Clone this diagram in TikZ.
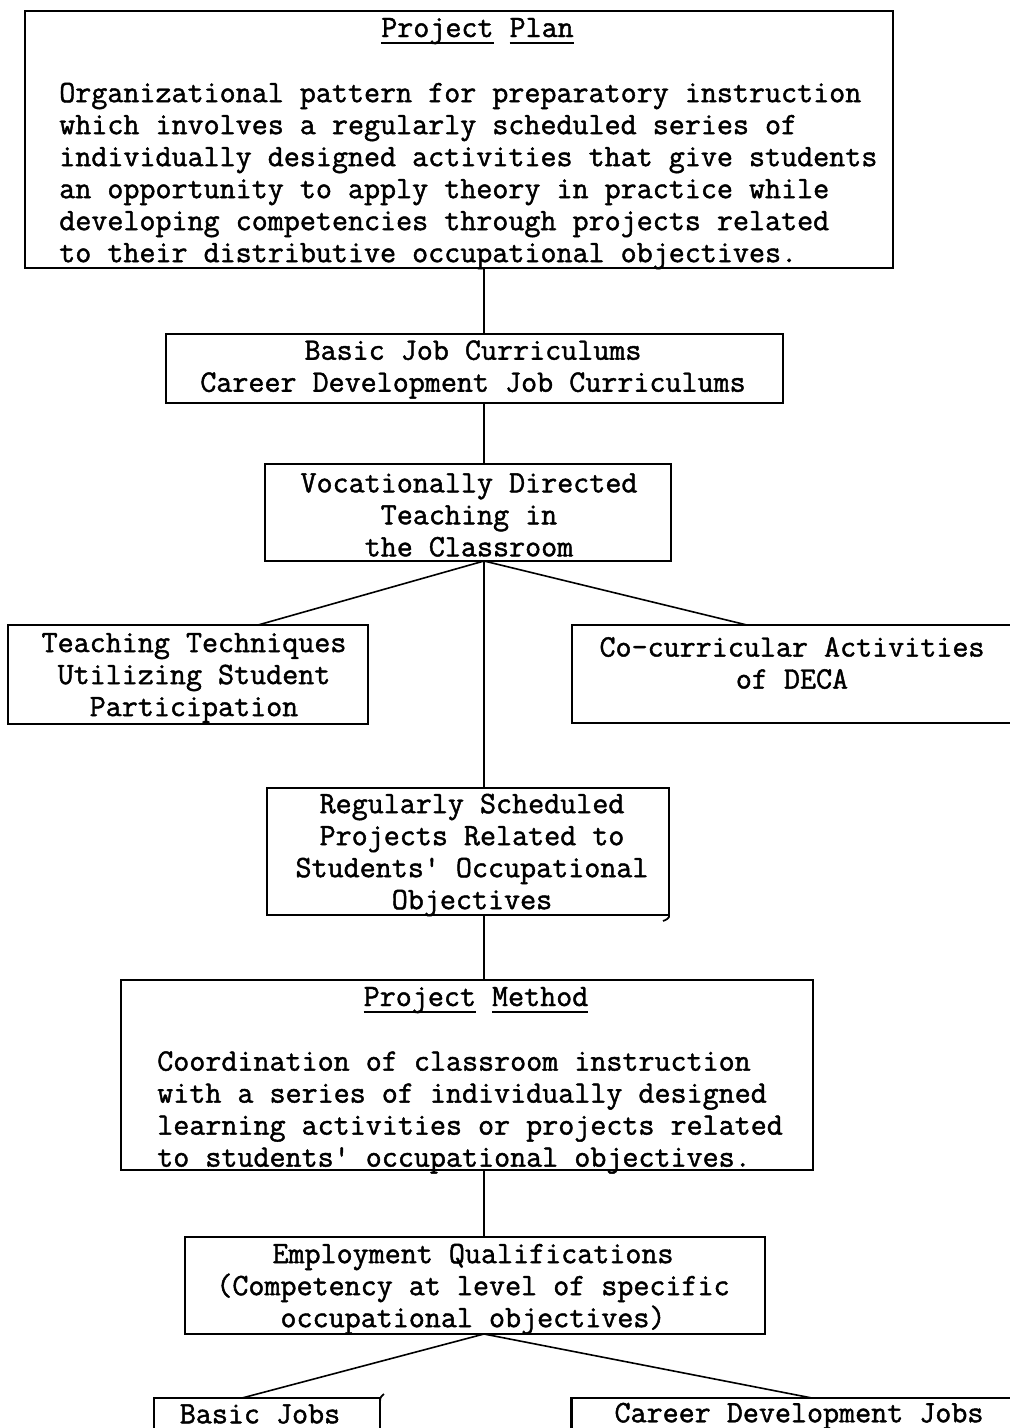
\documentclass[tikz,border=0pt]{standalone}
\usepackage{fontspec}
\newfontfamily\tw[FakeBold=1.4]{Latin Modern Mono}
\newcommand\myul[1]{\setbox0\hbox{#1}\rlap{\rule[-5pt]{\wd0}{1.5pt}}\box0}
\begin{document}
\begin{tikzpicture}[x=0.75pt,y=-0.75pt,
  box/.style={draw, line width=1.6pt, inner sep=0pt, outer sep=0pt},
  txt/.style={font=\tw\fontsize{23.36pt}{24pt}\selectfont, inner sep=0pt, align=center},
  txl/.style={txt, align=left, anchor=west},
  conn/.style={line width=1.2pt}]
\useasboundingbox (0,0) rectangle (1010,1428);
\fill[white] (0,0) rectangle (1010,1428);
\clip (0,0) rectangle (1010,1428);

% x positions of connector ends
\coordinate (sp) at (484,0);
\coordinate (xl1) at (258,0);
\coordinate (xr1) at (747,0);
\coordinate (xl2) at (242,0);
\coordinate (xr2) at (812,0);

% boxes
\node[box, minimum width=651pt, minimum height=192.75pt] (b1) at (459,139.5) {};
\node[box, minimum width=462.75pt, minimum height=51.75pt] (b2) at (474.5,368.5) {};
\node[box, minimum width=304.5pt, minimum height=72.75pt] (b3) at (468,512.5) {};
\node[box, minimum width=270pt, minimum height=74.25pt] (bl) at (188,674.5) {};
\node[box, minimum width=351pt, minimum height=73.5pt] (br) at (806,674) {};
\node[box, minimum width=301.5pt, minimum height=95.25pt] (b4) at (468,851.5) {};
\node[box, minimum width=519pt, minimum height=142.5pt] (b5) at (467,1075) {};
\node[box, minimum width=435pt, minimum height=72.75pt] (b6) at (475,1285.5) {};
\node[box, minimum width=169.5pt, minimum height=60pt] (bj) at (267,1438) {};
\node[box, minimum width=351pt, minimum height=60pt] (cd) at (805.5,1438) {};

% small marks on box corners
\draw[line width=1.3pt] (b4.south east) .. controls +(1,3) and +(3,-1) .. +(-6,6);
\draw[line width=1.3pt] (bj.north east) ++(0,4) .. controls +(0,-6) and +(-2,2) .. +(4,-8);

% texts
\node[txt, anchor=base] (t1) at (477.5,37) {\myul{Project}\ \myul{Plan}};
\node[txl] (t1b) at (59,176) {Organizational pattern for preparatory instruction\\
which involves a regularly scheduled series of\\
individually designed activities that give students\\
an opportunity to apply theory in practice while\\
developing competencies through projects related\\
to their distributive occupational objectives.};
\node[txt] (t2) at (473,369.5) {Basic Job Curriculums\\Career Development Job Curriculums};
\node[txt] (t3) at (469,515) {Vocationally Directed\\Teaching in\\the Classroom};
\node[txt] (tl) at (194,678) {Teaching Techniques\\Utilizing Student\\Participation};
\node[txt] (tr) at (792,663) {Co-curricular Activities\\of DECA};
\node[txt] (t4) at (472,855) {Regularly Scheduled\\Projects Related to\\Students\textquotesingle{} Occupational\\Objectives};
\node[txt, anchor=base] (t5) at (476,1006) {\myul{Project}\ \myul{Method}};
\node[txl] (t5b) at (157,1112.5) {Coordination of classroom instruction\\
with a series of individually designed\\
learning activities or projects related\\
to students\textquotesingle{} occupational objectives.};
\node[txt] (t6) at (473,1289) {Employment Qualifications\\(Competency at level of specific\\occupational objectives)};
\node[txt] (tj) at (260,1414) {Basic Jobs};
\node[txt] (tc) at (799,1416) {Career Development Jobs};

% connectors
\draw[conn] (b1.south -| sp) -- (b2.north -| sp);
\draw[conn] (b2.south -| sp) -- (b3.north -| sp);
\draw[conn] (b3.south -| sp) -- (b4.north -| sp);
\draw[conn] (b3.south -| sp) -- (bl.north -| xl1);
\draw[conn] (b3.south -| sp) -- (br.north -| xr1);
\draw[conn] (b4.south -| sp) -- (b5.north -| sp);
\draw[conn] (b5.south -| sp) -- (b6.north -| sp);
\draw[conn] (b6.south -| sp) -- (bj.north -| xl2);
\draw[conn] (b6.south -| sp) -- (cd.north -| xr2);
\end{tikzpicture}
\end{document}
